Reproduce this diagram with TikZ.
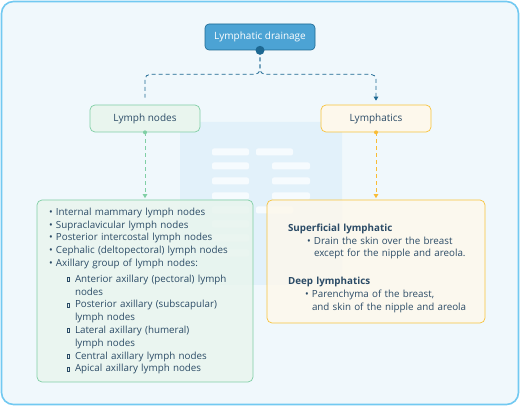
\documentclass[tikz,border=0pt]{standalone}
\usepackage{fontspec}
\setmainfont{Open Sans}
\usepackage{tikz}
\usetikzlibrary{
  arrows.meta,
  backgrounds,
  positioning
}
\definecolor{LymFrame}{HTML}{72C9F1}
\definecolor{LymPaper}{HTML}{F0F8FC}
\definecolor{LymMark}{HTML}{E2F1FA}
\definecolor{LymBar}{HTML}{F6FBFE}
\definecolor{LymRoot}{HTML}{4CA3D4}
\definecolor{LymDeep}{HTML}{1D6892}
\definecolor{LymText}{HTML}{2B4B66}
\definecolor{LymGreen}{HTML}{80CFA5}
\definecolor{LymGreenFill}{HTML}{E9F5EE}
\definecolor{LymOrange}{HTML}{F7C33C}
\definecolor{LymOrangeFill}{HTML}{FDF8EC}
\newcommand\lnbul{\makebox[7pt][l]{\textbullet}}
\newcommand\lnsub{\hspace*{18pt}\makebox[8pt][l]{\raisebox{0.25ex}{%
  \setlength\fboxsep{0pt}\setlength\fboxrule{0.5pt}\fbox{\rule{0pt}{3.2pt}\hspace{1.8pt}}}}}
\newcommand\lnwrap{\hspace*{26pt}}

\begin{document}
\begin{tikzpicture}[
  x=1pt,y=-1pt,
  every node/.style={text=LymText,font=\fontsize{9.8}{12.8}\selectfont},
  topbox/.style={draw=LymDeep,fill=LymRoot,rounded corners=4pt,line width=0.6pt,
    minimum width=110pt,minimum height=26pt,text=white,
    font=\fontsize{10}{11}\selectfont},
  midbox/.style={draw=#1,fill=#1Fill,rounded corners=5pt,line width=0.7pt,
    minimum width=110pt,minimum height=27pt,font=\fontsize{10}{11}\selectfont},
  listbox/.style={draw=#1,fill=#1Fill,fill opacity=0.85,text opacity=1,
    rounded corners=5pt,line width=0.7pt,align=left,inner ysep=0pt},
  conn/.style={draw=#1,dashed,dash pattern=on 4pt off 3pt,line width=0.8pt},
  tip/.style={-{Triangle[length=4pt,width=4.5pt]}}
]
\useasboundingbox (0,0) rectangle (520,406);

\node[topbox] (drainage) at (260,37) {Lymphatic drainage};
\node[midbox=LymGreen] (lymnodes) at (145,118.5) {Lymph nodes};
\node[midbox=LymOrange] (lymphatics) at (376,118.5) {Lymphatics};

\node[listbox=LymGreen,inner xsep=12pt,text width=192pt,minimum width=216pt,
  minimum height=182pt] (nodelist) at (145,291) {%
  \lnbul Internal mammary lymph nodes\\
  \lnbul Supraclavicular lymph nodes\\
  \lnbul Posterior intercostal lymph nodes\\
  \lnbul Cephalic (deltopectoral) lymph nodes\\
  \lnbul Axillary group of lymph nodes:\\[3pt]
  \lnsub Anterior axillary (pectoral) lymph\\
  \lnwrap nodes\\
  \lnsub Posterior axillary (subscapular)\\
  \lnwrap lymph nodes\\
  \lnsub Lateral axillary (humeral)\\
  \lnwrap lymph nodes\\
  \lnsub Central axillary lymph nodes\\
  \lnsub Apical axillary lymph nodes};

\node[listbox=LymOrange,inner xsep=14pt,text width=190pt,minimum width=218pt,
  minimum height=123pt] (vessellist) at (376,261.5) {%
  \rule{0pt}{21pt}\hspace*{7pt}\textbf{Superficial lymphatic}\\
  \hspace*{26pt}\lnbul Drain the skin over the breast\\
  \hspace*{33pt}except for the nipple and areola.\\[15pt]
  \hspace*{7pt}\textbf{Deep lymphatics}\\
  \hspace*{24pt}\lnbul Parenchyma of the breast,\\
  \hspace*{31pt}and skin of the nipple and areola};

% paper and faded icon
\begin{scope}[on background layer]
  \draw[LymFrame,fill=LymPaper,line width=1.6pt,rounded corners=12pt]
    (1.5,1.5) rectangle (518.5,404.5);
  \fill[LymMark,rounded corners=9pt] (180,122) rectangle (342,285);
  \foreach \y in {152,166,181,196,210,224,238,253}
    \fill[LymBar,rounded corners=2pt] (212,\y-3.5) rectangle (249,\y+3.5);
  \foreach \y/\a/\b in {152/256/293,166/272/310,181/272/310,196/272/310,210/256/293}
    \fill[LymBar,rounded corners=2pt] (\a,\y-3.5) rectangle (\b,\y+3.5);
\end{scope}

% connectors
\draw[conn=LymDeep,rounded corners=5pt,shorten >=7pt]
  (drainage.south) -- ++(0,24) -| (lymnodes.north);
\draw[conn=LymDeep,tip,rounded corners=5pt,shorten >=4pt]
  (drainage.south) -- ++(0,24) -| (lymphatics.north);
\fill[LymDeep] (drainage.south) circle (4.5);

\draw[conn=LymGreen,tip,shorten >=1.5pt] (lymnodes.south) -- (nodelist.north);
\fill[LymGreen] (lymnodes.south) circle (2);
\draw[conn=LymOrange!90!orange,tip,shorten >=1.5pt] (lymphatics.south) -- (vessellist.north);
\fill[LymOrange!90!orange] (lymphatics.south) circle (2);
\end{tikzpicture}
\end{document}
